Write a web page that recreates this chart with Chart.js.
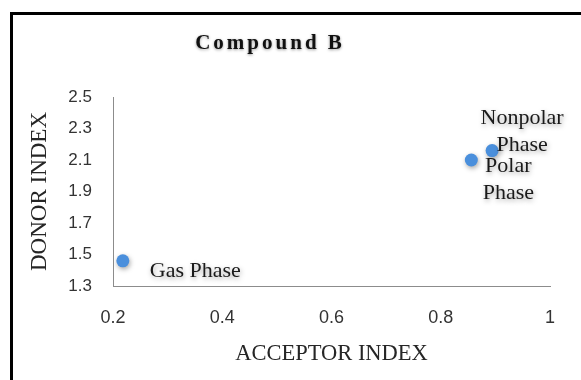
<!DOCTYPE html>
<html>
<head>
<meta charset="utf-8">
<script src="https://cdn.jsdelivr.net/npm/chart.js@4"></script>
<style>
  html, body { margin: 0; padding: 0; background: #fff; }
  #wrap { position: relative; width: 581px; height: 380px; }
</style>
</head>
<body>
<div id="wrap"><canvas id="c" width="581" height="380"></canvas></div>
<script>
const chartTitle = "Compound B";
const xAxisTitle = "ACCEPTOR INDEX";
const yAxisTitle = "DONOR INDEX";
const phaseNames = [["Gas Phase"], ["Polar", "Phase"], ["Nonpolar", "Phase"]];
const acceptorIndex = [0.218, 0.856, 0.894];
const donorIndex = [1.46, 2.10, 2.16];
const xTicks = [0.2, 0.4, 0.6, 0.8, 1];
const yTicks = [1.3, 1.5, 1.7, 1.9, 2.1, 2.3, 2.5];

const points = acceptorIndex.map((x, i) => ({ x: x, y: donorIndex[i] }));

const serif = '"Liberation Serif", "Times New Roman", serif';
const sans = '"Liberation Sans", Arial, sans-serif';

const labelPlacement = [
  { dx: 27, dy: 10, align: 'left' },
  { dx: 37, dy: 6, align: 'center' },
  { dx: 30, dy: -32, align: 'center' }
];

const decorPlugin = {
  id: 'decor',
  beforeDraw(chart) {
    const ctx = chart.ctx;
    ctx.save();
    ctx.fillStyle = '#fff';
    ctx.fillRect(0, 0, chart.width, chart.height);
    ctx.fillStyle = '#000';
    ctx.fillRect(10, 12, 3, chart.height - 12);
    ctx.fillRect(10, 12, chart.width - 10, 3);
    ctx.font = 'bold 21px ' + serif;
    ctx.letterSpacing = '3px';
    ctx.textAlign = 'center';
    ctx.textBaseline = 'middle';
    ctx.shadowColor = 'rgba(0,0,0,0.4)';
    ctx.shadowBlur = 3;
    ctx.shadowOffsetY = 1;
    ctx.fillStyle = '#111';
    ctx.fillText(chartTitle, 270, 44);
    ctx.restore();
  },
  afterDatasetsDraw(chart) {
    const ctx = chart.ctx;
    const meta = chart.getDatasetMeta(0);
    ctx.save();
    ctx.font = '22px ' + serif;
    ctx.fillStyle = '#1a1a1a';
    ctx.textBaseline = 'middle';
    meta.data.forEach((el, i) => {
      const p = labelPlacement[i];
      ctx.textAlign = p.align;
      phaseNames[i].forEach((line, j) => {
        ctx.fillText(line, el.x + p.dx, el.y + p.dy + j * 27);
      });
    });
    ctx.restore();
  }
};

const shadowPlugin = {
  id: 'pointShadow',
  beforeDatasetsDraw(chart) {
    const ctx = chart.ctx;
    ctx.save();
    ctx.shadowColor = 'rgba(0,0,0,0.35)';
    ctx.shadowBlur = 5;
    ctx.shadowOffsetX = 1;
    ctx.shadowOffsetY = 2;
  },
  afterDatasetsDraw(chart) {
    chart.ctx.restore();
  }
};

new Chart(document.getElementById('c'), {
  type: 'scatter',
  data: {
    datasets: [{
      data: points,
      pointRadius: 6.5,
      pointHoverRadius: 6.5,
      pointBackgroundColor: '#4a8fdc',
      pointBorderWidth: 0,
      borderColor: '#4a8fdc'
    }]
  },
  options: {
    responsive: false,
    animation: false,
    devicePixelRatio: 1,
    layout: { padding: { top: 97, right: 31, bottom: 12, left: 0 } },
    plugins: { legend: { display: false }, tooltip: { enabled: false }, title: { display: false } },
    scales: {
      x: {
        type: 'linear',
        min: xTicks[0],
        max: xTicks[xTicks.length - 1],
        afterBuildTicks: s => { s.ticks = xTicks.map(v => ({ value: v })); },
        afterFit: s => { s.height = 82; },
        grid: { display: false, drawTicks: false },
        border: { display: true, color: '#8c8c8c', width: 1 },
        ticks: {
          padding: 21,
          color: '#333333',
          font: { family: sans, size: 18 },
          callback: v => String(v)
        },
        title: {
          display: true,
          text: xAxisTitle,
          color: '#262626',
          font: { family: serif, size: 22.5 },
          padding: { top: 0, bottom: 0 }
        }
      },
      y: {
        type: 'linear',
        min: yTicks[0],
        max: yTicks[yTicks.length - 1],
        afterBuildTicks: s => { s.ticks = yTicks.map(v => ({ value: v })); },
        afterFit: s => { s.width = 113; },
        grid: { display: false, drawTicks: false },
        border: { display: true, color: '#8c8c8c', width: 1 },
        ticks: {
          padding: 21,
          color: '#333333',
          font: { family: sans, size: 17 },
          callback: v => Number(v).toFixed(1)
        },
        title: {
          display: true,
          text: yAxisTitle,
          color: '#262626',
          font: { family: serif, size: 23 },
          padding: { top: 26, bottom: 0 }
        }
      }
    }
  },
  plugins: [decorPlugin, shadowPlugin]
});
</script>
</body>
</html>
